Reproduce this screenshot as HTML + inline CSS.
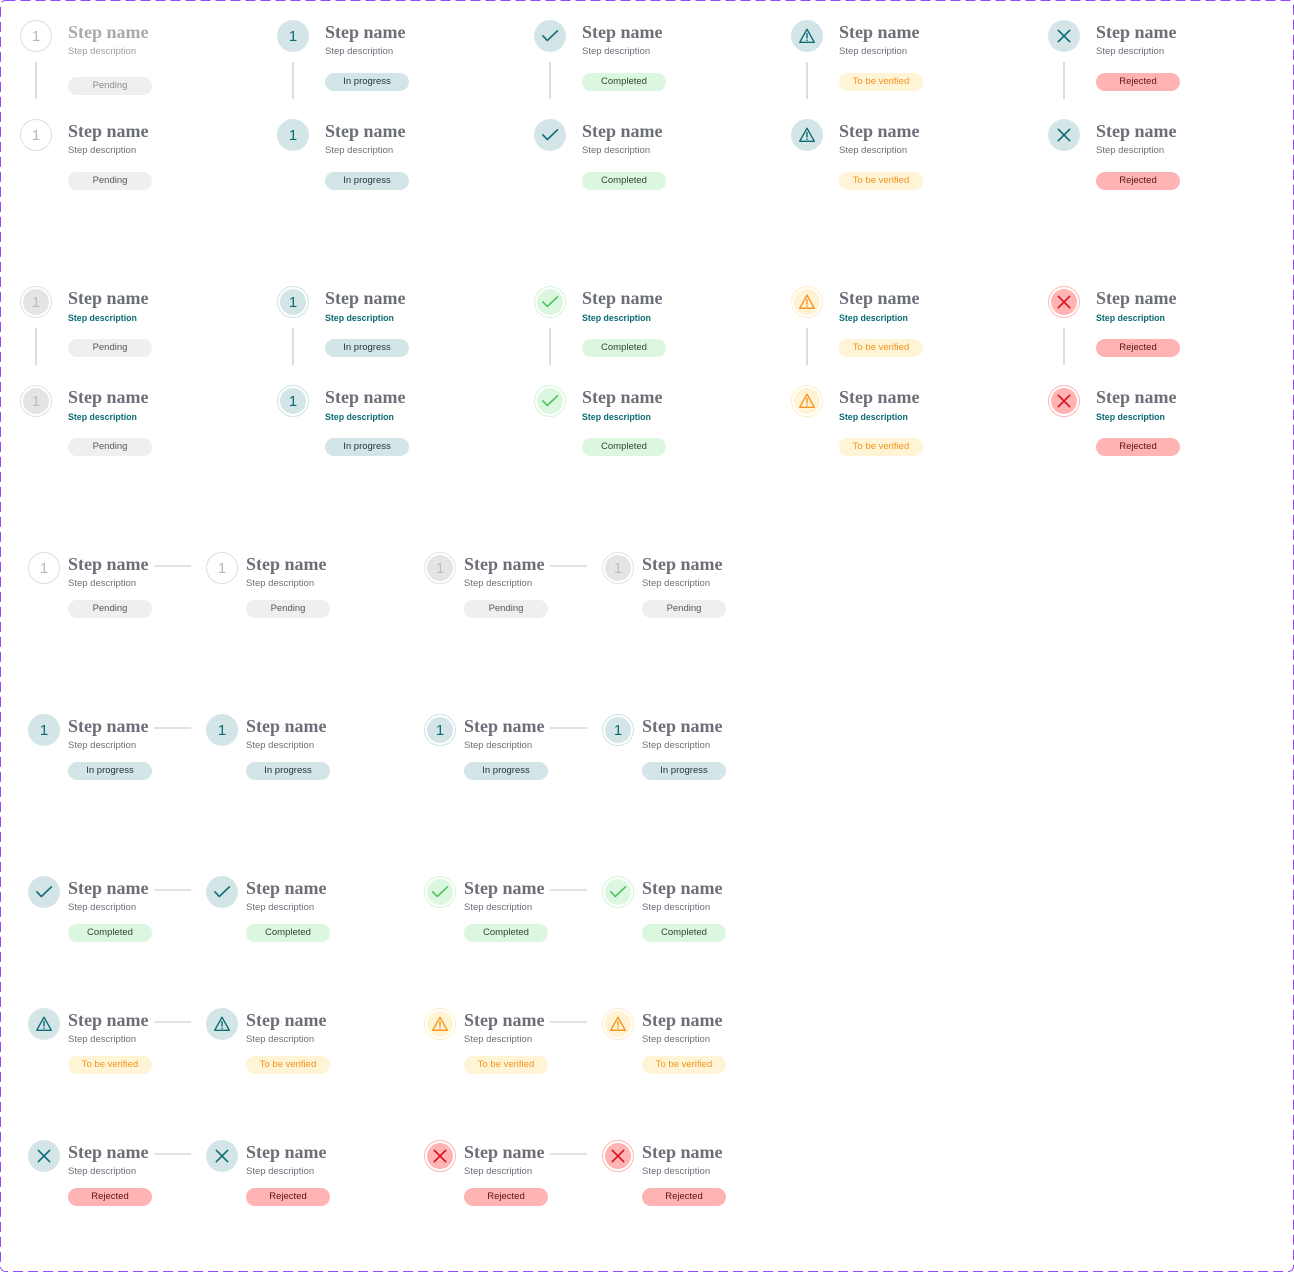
<!DOCTYPE html>
<html><head><meta charset="utf-8"><style>
html,body{margin:0;padding:0}
body{width:1294px;height:1272px;position:relative;overflow:hidden;background:#fff;font-family:"Liberation Sans",sans-serif}
.frame{position:absolute;left:0;top:0}
.it{position:absolute;width:200px;height:80px}
.c{position:absolute;left:0;top:0;width:32px;height:32px;overflow:visible}
.n{position:absolute;left:48px;top:2.7px;font:bold 18px/18px "Liberation Serif",serif;color:#6c6f78;white-space:nowrap}
.d{position:absolute;left:48px;top:26.3px;font:9.5px/12px "Liberation Sans",sans-serif;color:#6c6f78;white-space:nowrap}
.d.t{font:bold 8.8px/12px "Liberation Sans",sans-serif;color:#0c6b73}
.b{position:absolute;left:48px;top:53px;width:84px;height:18px;border-radius:9px;font:9.5px/18px "Liberation Sans",sans-serif;text-align:center;white-space:nowrap}
.h .n,.h .d,.h .b{left:40px}
.h .b{top:48px}
.pe{background:#efefef;color:#55585e}
.pr{background:#d4e5e8;color:#22363a}
.co{background:#dcf7df;color:#2c4a30}
.ve{background:#fff4d6;color:#f4921d}
.re{background:#ffb3b3;color:#5a1414}
.vl{position:absolute;width:1.5px;height:37px;background:#dddddd}
.hl{position:absolute;width:37px;height:1.5px;background:#e2e2e2}
.num{font-family:"Liberation Sans",sans-serif;font-size:15px}
</style></head><body>
<svg width="0" height="0" style="position:absolute">
<defs>
<symbol id="chk" viewBox="0 0 32 32"><polyline points="8.8,15.8 13.3,20.5 23.5,10.8" fill="none" stroke="currentColor" stroke-width="1.6" stroke-linecap="round" stroke-linejoin="round"/></symbol>
<symbol id="wrn" viewBox="0 0 32 32"><path d="M16 9.2 L23.3 22.3 L8.7 22.3 Z" fill="none" stroke="currentColor" stroke-width="1.4" stroke-linejoin="round"/><line x1="16" y1="13.6" x2="16" y2="18" stroke="currentColor" stroke-width="1.4" stroke-linecap="round"/><circle cx="16" cy="20.2" r="0.8" fill="currentColor"/></symbol>
<symbol id="xx" viewBox="0 0 32 32"><line x1="10.3" y1="10.3" x2="21.7" y2="21.7" stroke="currentColor" stroke-width="1.6" stroke-linecap="round"/><line x1="21.7" y1="10.3" x2="10.3" y2="21.7" stroke="currentColor" stroke-width="1.6" stroke-linecap="round"/></symbol>
</defs></svg>

<svg class="frame" width="1294" height="1272"><rect x="0.5" y="0.5" width="1293" height="1271" rx="5" ry="5" fill="none" stroke="#9747ff" stroke-width="1" stroke-dasharray="10 5"/></svg>

<!-- Section 1 connectors -->
<div class="vl" style="left:35.25px;top:62px"></div>
<div class="vl" style="left:292.25px;top:62px"></div>
<div class="vl" style="left:549.25px;top:62px"></div>
<div class="vl" style="left:806.25px;top:62px"></div>
<div class="vl" style="left:1063.25px;top:62px"></div>

<!-- Section 1 row 1 -->
<div class="it" style="left:20px;top:20px"><svg class="c" viewBox="0 0 32 32"><circle cx="16" cy="16" r="15.5" fill="#fff" stroke="#dedede"/><text x="16" y="21.2" text-anchor="middle" class="num" fill="#b8b8b8">1</text></svg><div class="n" style="color:#a8aaae">Step name</div><div class="d" style="color:#9d9fa4">Step description</div><div class="b pe" style="top:57px;color:#8a8d92">Pending</div></div>
<div class="it" style="left:277px;top:20px"><svg class="c" viewBox="0 0 32 32"><circle cx="16" cy="16" r="16" fill="#d4e5e8"/><text x="16" y="21.2" text-anchor="middle" class="num" fill="#0c6b73">1</text></svg><div class="n">Step name</div><div class="d">Step description</div><div class="b pr">In progress</div></div>
<div class="it" style="left:534px;top:20px"><svg class="c" viewBox="0 0 32 32" style="color:#0c6b73"><circle cx="16" cy="16" r="16" fill="#d4e5e8"/><use href="#chk" width="32" height="32"/></svg><div class="n">Step name</div><div class="d">Step description</div><div class="b co">Completed</div></div>
<div class="it" style="left:791px;top:20px"><svg class="c" viewBox="0 0 32 32" style="color:#0c6b73"><circle cx="16" cy="16" r="16" fill="#d4e5e8"/><use href="#wrn" width="32" height="32"/></svg><div class="n">Step name</div><div class="d">Step description</div><div class="b ve">To be verified</div></div>
<div class="it" style="left:1048px;top:20px"><svg class="c" viewBox="0 0 32 32" style="color:#0c6b73"><circle cx="16" cy="16" r="16" fill="#d4e5e8"/><use href="#xx" width="32" height="32"/></svg><div class="n">Step name</div><div class="d">Step description</div><div class="b re">Rejected</div></div>

<!-- Section 1 row 2 -->
<div class="it" style="left:20px;top:119px"><svg class="c" viewBox="0 0 32 32"><circle cx="16" cy="16" r="15.5" fill="#fff" stroke="#dedede"/><text x="16" y="21.2" text-anchor="middle" class="num" fill="#b8b8b8">1</text></svg><div class="n">Step name</div><div class="d">Step description</div><div class="b pe">Pending</div></div>
<div class="it" style="left:277px;top:119px"><svg class="c" viewBox="0 0 32 32"><circle cx="16" cy="16" r="16" fill="#d4e5e8"/><text x="16" y="21.2" text-anchor="middle" class="num" fill="#0c6b73">1</text></svg><div class="n">Step name</div><div class="d">Step description</div><div class="b pr">In progress</div></div>
<div class="it" style="left:534px;top:119px"><svg class="c" viewBox="0 0 32 32" style="color:#0c6b73"><circle cx="16" cy="16" r="16" fill="#d4e5e8"/><use href="#chk" width="32" height="32"/></svg><div class="n">Step name</div><div class="d">Step description</div><div class="b co">Completed</div></div>
<div class="it" style="left:791px;top:119px"><svg class="c" viewBox="0 0 32 32" style="color:#0c6b73"><circle cx="16" cy="16" r="16" fill="#d4e5e8"/><use href="#wrn" width="32" height="32"/></svg><div class="n">Step name</div><div class="d">Step description</div><div class="b ve">To be verified</div></div>
<div class="it" style="left:1048px;top:119px"><svg class="c" viewBox="0 0 32 32" style="color:#0c6b73"><circle cx="16" cy="16" r="16" fill="#d4e5e8"/><use href="#xx" width="32" height="32"/></svg><div class="n">Step name</div><div class="d">Step description</div><div class="b re">Rejected</div></div>

<!-- Section 2 connectors -->
<div class="vl" style="left:35.25px;top:328px"></div>
<div class="vl" style="left:292.25px;top:328px"></div>
<div class="vl" style="left:549.25px;top:328px"></div>
<div class="vl" style="left:806.25px;top:328px"></div>
<div class="vl" style="left:1063.25px;top:328px"></div>

<!-- Section 2 row 1 -->
<div class="it" style="left:20px;top:286px"><svg class="c" viewBox="0 0 32 32"><circle cx="16" cy="16" r="15.5" fill="#fff" stroke="#e3e3e3"/><circle cx="16" cy="16" r="13" fill="#e3e4e6"/><text x="16" y="21.2" text-anchor="middle" class="num" fill="#bdbdbd">1</text></svg><div class="n">Step name</div><div class="d t">Step description</div><div class="b pe">Pending</div></div>
<div class="it" style="left:277px;top:286px"><svg class="c" viewBox="0 0 32 32"><circle cx="16" cy="16" r="15.5" fill="#fff" stroke="#cfe2e5"/><circle cx="16" cy="16" r="13" fill="#d4e5e8"/><text x="16" y="21.2" text-anchor="middle" class="num" fill="#0c6b73">1</text></svg><div class="n">Step name</div><div class="d t">Step description</div><div class="b pr">In progress</div></div>
<div class="it" style="left:534px;top:286px"><svg class="c" viewBox="0 0 32 32" style="color:#4fc25d"><circle cx="16" cy="16" r="15.5" fill="#fff" stroke="#d6f4da"/><circle cx="16" cy="16" r="13" fill="#dcf7df"/><use href="#chk" width="32" height="32"/></svg><div class="n">Step name</div><div class="d t">Step description</div><div class="b co">Completed</div></div>
<div class="it" style="left:791px;top:286px"><svg class="c" viewBox="0 0 32 32" style="color:#f7931e"><circle cx="16" cy="16" r="15.5" fill="#fff" stroke="#fdeec4"/><circle cx="16" cy="16" r="13" fill="#fff3d4"/><use href="#wrn" width="32" height="32"/></svg><div class="n">Step name</div><div class="d t">Step description</div><div class="b ve">To be verified</div></div>
<div class="it" style="left:1048px;top:286px"><svg class="c" viewBox="0 0 32 32" style="color:#d4111c"><circle cx="16" cy="16" r="15.5" fill="#fff" stroke="#ffb8b8"/><circle cx="16" cy="16" r="13" fill="#ffb3b3"/><use href="#xx" width="32" height="32"/></svg><div class="n">Step name</div><div class="d t">Step description</div><div class="b re">Rejected</div></div>

<!-- Section 2 row 2 -->
<div class="it" style="left:20px;top:385px"><svg class="c" viewBox="0 0 32 32"><circle cx="16" cy="16" r="15.5" fill="#fff" stroke="#e3e3e3"/><circle cx="16" cy="16" r="13" fill="#e3e4e6"/><text x="16" y="21.2" text-anchor="middle" class="num" fill="#bdbdbd">1</text></svg><div class="n">Step name</div><div class="d t">Step description</div><div class="b pe">Pending</div></div>
<div class="it" style="left:277px;top:385px"><svg class="c" viewBox="0 0 32 32"><circle cx="16" cy="16" r="15.5" fill="#fff" stroke="#cfe2e5"/><circle cx="16" cy="16" r="13" fill="#d4e5e8"/><text x="16" y="21.2" text-anchor="middle" class="num" fill="#0c6b73">1</text></svg><div class="n">Step name</div><div class="d t">Step description</div><div class="b pr">In progress</div></div>
<div class="it" style="left:534px;top:385px"><svg class="c" viewBox="0 0 32 32" style="color:#4fc25d"><circle cx="16" cy="16" r="15.5" fill="#fff" stroke="#d6f4da"/><circle cx="16" cy="16" r="13" fill="#dcf7df"/><use href="#chk" width="32" height="32"/></svg><div class="n">Step name</div><div class="d t">Step description</div><div class="b co">Completed</div></div>
<div class="it" style="left:791px;top:385px"><svg class="c" viewBox="0 0 32 32" style="color:#f7931e"><circle cx="16" cy="16" r="15.5" fill="#fff" stroke="#fdeec4"/><circle cx="16" cy="16" r="13" fill="#fff3d4"/><use href="#wrn" width="32" height="32"/></svg><div class="n">Step name</div><div class="d t">Step description</div><div class="b ve">To be verified</div></div>
<div class="it" style="left:1048px;top:385px"><svg class="c" viewBox="0 0 32 32" style="color:#d4111c"><circle cx="16" cy="16" r="15.5" fill="#fff" stroke="#ffb8b8"/><circle cx="16" cy="16" r="13" fill="#ffb3b3"/><use href="#xx" width="32" height="32"/></svg><div class="n">Step name</div><div class="d t">Step description</div><div class="b re">Rejected</div></div>

<!-- Section 3 connectors -->
<div class="hl" style="left:154px;top:565.25px"></div><div class="hl" style="left:550px;top:565.25px"></div>
<div class="hl" style="left:154px;top:727.25px"></div><div class="hl" style="left:550px;top:727.25px"></div>
<div class="hl" style="left:154px;top:889.25px"></div><div class="hl" style="left:550px;top:889.25px"></div>
<div class="hl" style="left:154px;top:1021.25px"></div><div class="hl" style="left:550px;top:1021.25px"></div>
<div class="hl" style="left:154px;top:1153.25px"></div><div class="hl" style="left:550px;top:1153.25px"></div>

<!-- Section 3 row: pending -->
<div class="it h" style="left:28px;top:552px"><svg class="c" viewBox="0 0 32 32"><circle cx="16" cy="16" r="15.5" fill="#fff" stroke="#dedede"/><text x="16" y="21.2" text-anchor="middle" class="num" fill="#b8b8b8">1</text></svg><div class="n">Step name</div><div class="d">Step description</div><div class="b pe">Pending</div></div>
<div class="it h" style="left:206px;top:552px"><svg class="c" viewBox="0 0 32 32"><circle cx="16" cy="16" r="15.5" fill="#fff" stroke="#dedede"/><text x="16" y="21.2" text-anchor="middle" class="num" fill="#b8b8b8">1</text></svg><div class="n">Step name</div><div class="d">Step description</div><div class="b pe">Pending</div></div>
<div class="it h" style="left:424px;top:552px"><svg class="c" viewBox="0 0 32 32"><circle cx="16" cy="16" r="15.5" fill="#fff" stroke="#e3e3e3"/><circle cx="16" cy="16" r="13" fill="#e3e4e6"/><text x="16" y="21.2" text-anchor="middle" class="num" fill="#bdbdbd">1</text></svg><div class="n">Step name</div><div class="d">Step description</div><div class="b pe">Pending</div></div>
<div class="it h" style="left:602px;top:552px"><svg class="c" viewBox="0 0 32 32"><circle cx="16" cy="16" r="15.5" fill="#fff" stroke="#e3e3e3"/><circle cx="16" cy="16" r="13" fill="#e3e4e6"/><text x="16" y="21.2" text-anchor="middle" class="num" fill="#bdbdbd">1</text></svg><div class="n">Step name</div><div class="d">Step description</div><div class="b pe">Pending</div></div>

<!-- Section 3 row: in progress -->
<div class="it h" style="left:28px;top:714px"><svg class="c" viewBox="0 0 32 32"><circle cx="16" cy="16" r="16" fill="#d4e5e8"/><text x="16" y="21.2" text-anchor="middle" class="num" fill="#0c6b73">1</text></svg><div class="n">Step name</div><div class="d">Step description</div><div class="b pr">In progress</div></div>
<div class="it h" style="left:206px;top:714px"><svg class="c" viewBox="0 0 32 32"><circle cx="16" cy="16" r="16" fill="#d4e5e8"/><text x="16" y="21.2" text-anchor="middle" class="num" fill="#0c6b73">1</text></svg><div class="n">Step name</div><div class="d">Step description</div><div class="b pr">In progress</div></div>
<div class="it h" style="left:424px;top:714px"><svg class="c" viewBox="0 0 32 32"><circle cx="16" cy="16" r="15.5" fill="#fff" stroke="#cfe2e5"/><circle cx="16" cy="16" r="13" fill="#d4e5e8"/><text x="16" y="21.2" text-anchor="middle" class="num" fill="#0c6b73">1</text></svg><div class="n">Step name</div><div class="d">Step description</div><div class="b pr">In progress</div></div>
<div class="it h" style="left:602px;top:714px"><svg class="c" viewBox="0 0 32 32"><circle cx="16" cy="16" r="15.5" fill="#fff" stroke="#cfe2e5"/><circle cx="16" cy="16" r="13" fill="#d4e5e8"/><text x="16" y="21.2" text-anchor="middle" class="num" fill="#0c6b73">1</text></svg><div class="n">Step name</div><div class="d">Step description</div><div class="b pr">In progress</div></div>

<!-- Section 3 row: completed -->
<div class="it h" style="left:28px;top:876px"><svg class="c" viewBox="0 0 32 32" style="color:#0c6b73"><circle cx="16" cy="16" r="16" fill="#d4e5e8"/><use href="#chk" width="32" height="32"/></svg><div class="n">Step name</div><div class="d">Step description</div><div class="b co">Completed</div></div>
<div class="it h" style="left:206px;top:876px"><svg class="c" viewBox="0 0 32 32" style="color:#0c6b73"><circle cx="16" cy="16" r="16" fill="#d4e5e8"/><use href="#chk" width="32" height="32"/></svg><div class="n">Step name</div><div class="d">Step description</div><div class="b co">Completed</div></div>
<div class="it h" style="left:424px;top:876px"><svg class="c" viewBox="0 0 32 32" style="color:#4fc25d"><circle cx="16" cy="16" r="15.5" fill="#fff" stroke="#d6f4da"/><circle cx="16" cy="16" r="13" fill="#dcf7df"/><use href="#chk" width="32" height="32"/></svg><div class="n">Step name</div><div class="d">Step description</div><div class="b co">Completed</div></div>
<div class="it h" style="left:602px;top:876px"><svg class="c" viewBox="0 0 32 32" style="color:#4fc25d"><circle cx="16" cy="16" r="15.5" fill="#fff" stroke="#d6f4da"/><circle cx="16" cy="16" r="13" fill="#dcf7df"/><use href="#chk" width="32" height="32"/></svg><div class="n">Step name</div><div class="d">Step description</div><div class="b co">Completed</div></div>

<!-- Section 3 row: to be verified -->
<div class="it h" style="left:28px;top:1008px"><svg class="c" viewBox="0 0 32 32" style="color:#0c6b73"><circle cx="16" cy="16" r="16" fill="#d4e5e8"/><use href="#wrn" width="32" height="32"/></svg><div class="n">Step name</div><div class="d">Step description</div><div class="b ve">To be verified</div></div>
<div class="it h" style="left:206px;top:1008px"><svg class="c" viewBox="0 0 32 32" style="color:#0c6b73"><circle cx="16" cy="16" r="16" fill="#d4e5e8"/><use href="#wrn" width="32" height="32"/></svg><div class="n">Step name</div><div class="d">Step description</div><div class="b ve">To be verified</div></div>
<div class="it h" style="left:424px;top:1008px"><svg class="c" viewBox="0 0 32 32" style="color:#f7931e"><circle cx="16" cy="16" r="15.5" fill="#fff" stroke="#fdeec4"/><circle cx="16" cy="16" r="13" fill="#fff3d4"/><use href="#wrn" width="32" height="32"/></svg><div class="n">Step name</div><div class="d">Step description</div><div class="b ve">To be verified</div></div>
<div class="it h" style="left:602px;top:1008px"><svg class="c" viewBox="0 0 32 32" style="color:#f7931e"><circle cx="16" cy="16" r="15.5" fill="#fff" stroke="#fdeec4"/><circle cx="16" cy="16" r="13" fill="#fff3d4"/><use href="#wrn" width="32" height="32"/></svg><div class="n">Step name</div><div class="d">Step description</div><div class="b ve">To be verified</div></div>

<!-- Section 3 row: rejected -->
<div class="it h" style="left:28px;top:1140px"><svg class="c" viewBox="0 0 32 32" style="color:#0c6b73"><circle cx="16" cy="16" r="16" fill="#d4e5e8"/><use href="#xx" width="32" height="32"/></svg><div class="n">Step name</div><div class="d">Step description</div><div class="b re">Rejected</div></div>
<div class="it h" style="left:206px;top:1140px"><svg class="c" viewBox="0 0 32 32" style="color:#0c6b73"><circle cx="16" cy="16" r="16" fill="#d4e5e8"/><use href="#xx" width="32" height="32"/></svg><div class="n">Step name</div><div class="d">Step description</div><div class="b re">Rejected</div></div>
<div class="it h" style="left:424px;top:1140px"><svg class="c" viewBox="0 0 32 32" style="color:#d4111c"><circle cx="16" cy="16" r="15.5" fill="#fff" stroke="#ffb8b8"/><circle cx="16" cy="16" r="13" fill="#ffb3b3"/><use href="#xx" width="32" height="32"/></svg><div class="n">Step name</div><div class="d">Step description</div><div class="b re">Rejected</div></div>
<div class="it h" style="left:602px;top:1140px"><svg class="c" viewBox="0 0 32 32" style="color:#d4111c"><circle cx="16" cy="16" r="15.5" fill="#fff" stroke="#ffb8b8"/><circle cx="16" cy="16" r="13" fill="#ffb3b3"/><use href="#xx" width="32" height="32"/></svg><div class="n">Step name</div><div class="d">Step description</div><div class="b re">Rejected</div></div>

</body></html>
